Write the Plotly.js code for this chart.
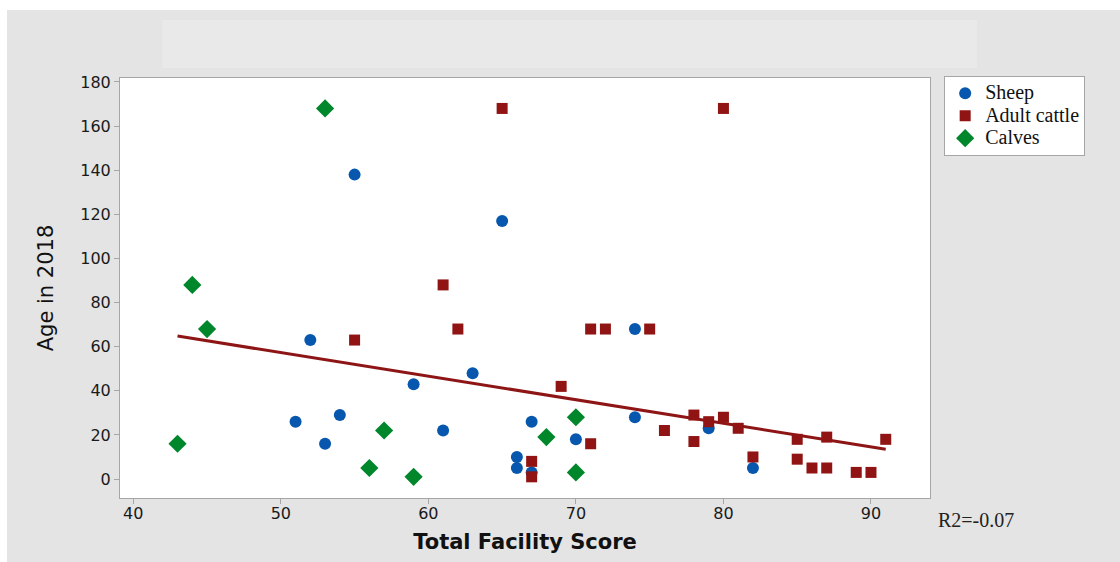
<!DOCTYPE html>
<html>
<head>
<meta charset="utf-8">
<script src="https://cdn.plot.ly/plotly-3.0.1.min.js"></script>
<style>
  html, body { margin: 0; padding: 0; background: #ffffff; }
  #chart { position: absolute; left: 7px; top: 10px; width: 1113px; height: 552px; }
</style>
</head>
<body>
<div id="chart"></div>
<script>
// ---- data ----
const sheepX = [55, 65, 52, 59, 63, 51, 54, 53, 61, 66, 66, 67, 67, 70, 74, 74, 79, 82];
const sheepY = [138, 117, 63, 43, 48, 26, 29, 16, 22, 10, 5, 3, 26, 18, 28, 68, 23, 5];

const cattleX = [65, 80, 61, 62, 55, 69, 71, 72, 75, 71, 67, 67, 76, 78, 78, 79, 80, 81, 82, 85, 85, 86, 87, 87, 89, 90, 91];
const cattleY = [168, 168, 88, 68, 63, 42, 68, 68, 68, 16, 8, 1, 22, 29, 17, 26, 28, 23, 10, 18, 9, 5, 5, 19, 3, 3, 18];

const calvesX = [53, 44, 45, 43, 57, 56, 59, 68, 70, 70];
const calvesY = [168, 88, 68, 16, 22, 5, 1, 19, 28, 3];

const trendX = [43, 91];
const trendY = [64.8, 13.5];

const seriesNames = ["Sheep", "Adult cattle", "Calves"];
const xTicks = [40, 50, 60, 70, 80, 90];
const yTicks = [0, 20, 40, 60, 80, 100, 120, 140, 160, 180];
const r2Label = "R2=-0.07";
const xTitle = "Total Facility Score";
const yTitle = "Age in 2018";

// ---- chart ----
const legendName = n => '<span style="font-size:20px">' + n + '</span>';

const traces = [
  { x: trendX, y: trendY, mode: "lines", type: "scatter", showlegend: false, hoverinfo: "skip",
    line: { color: "#8e1515", width: 3 } },
  { x: sheepX, y: sheepY, mode: "markers", type: "scatter", name: legendName(seriesNames[0]),
    marker: { symbol: "circle", size: 12, color: "#0657ad" } },
  { x: cattleX, y: cattleY, mode: "markers", type: "scatter", name: legendName(seriesNames[1]),
    marker: { symbol: "square", size: 11, color: "#911414" } },
  { x: calvesX, y: calvesY, mode: "markers", type: "scatter", name: legendName(seriesNames[2]),
    marker: { symbol: "diamond", size: 14, color: "#00862b" } }
];

const axisCommon = {
  showgrid: false, zeroline: false, showline: true, mirror: true,
  linecolor: "#a6a6a6", linewidth: 1,
  ticks: "outside", ticklen: 5, tickcolor: "#a6a6a6", tickwidth: 1,
  tickfont: { family: "DejaVu Sans", size: 16, color: "#1a1a1a" }
};

const layout = {
  width: 1113, height: 552,
  paper_bgcolor: "#e4e4e4", plot_bgcolor: "#ffffff",
  margin: { l: 113, r: 190, t: 68, b: 64 },
  xaxis: Object.assign({}, axisCommon, {
    range: [39.1, 94.0], tickvals: xTicks, ticktext: xTicks.map(String),
    ticklabelstandoff: -4,
    title: { text: xTitle, standoff: 12,
      font: { family: "DejaVu Sans", size: 21, color: "#111", weight: 600 } }
  }),
  yaxis: Object.assign({}, axisCommon, {
    range: [-8.6, 181.8], tickvals: yTicks, ticktext: yTicks.map(String),
    title: { text: yTitle, standoff: 20,
      font: { family: "DejaVu Sans", size: 21, color: "#111" } }
  }),
  showlegend: true,
  legend: {
    x: 1.0175, y: 1.005, xanchor: "left", yanchor: "top",
    bgcolor: "#ffffff", bordercolor: "#a6a6a6", borderwidth: 1,
    font: { family: "Liberation Serif", size: 15, color: "#111" },
    tracegroupgap: 0, itemwidth: 30
  },
  shapes: [
    { type: "rect", xref: "paper", yref: "paper", x0: 0.052, x1: 1.058, y0: 1.024, y1: 1.138,
      fillcolor: "#e9e9e9", line: { width: 0 }, layer: "below" }
  ],
  annotations: [
    { text: r2Label, xref: "paper", yref: "paper", x: 1.008, y: -0.052,
      xanchor: "left", yanchor: "middle", showarrow: false,
      font: { family: "Liberation Serif", size: 20, color: "#222" } }
  ]
};

Plotly.newPlot("chart", traces, layout, { displayModeBar: false, staticPlot: true });
</script>
</body>
</html>
